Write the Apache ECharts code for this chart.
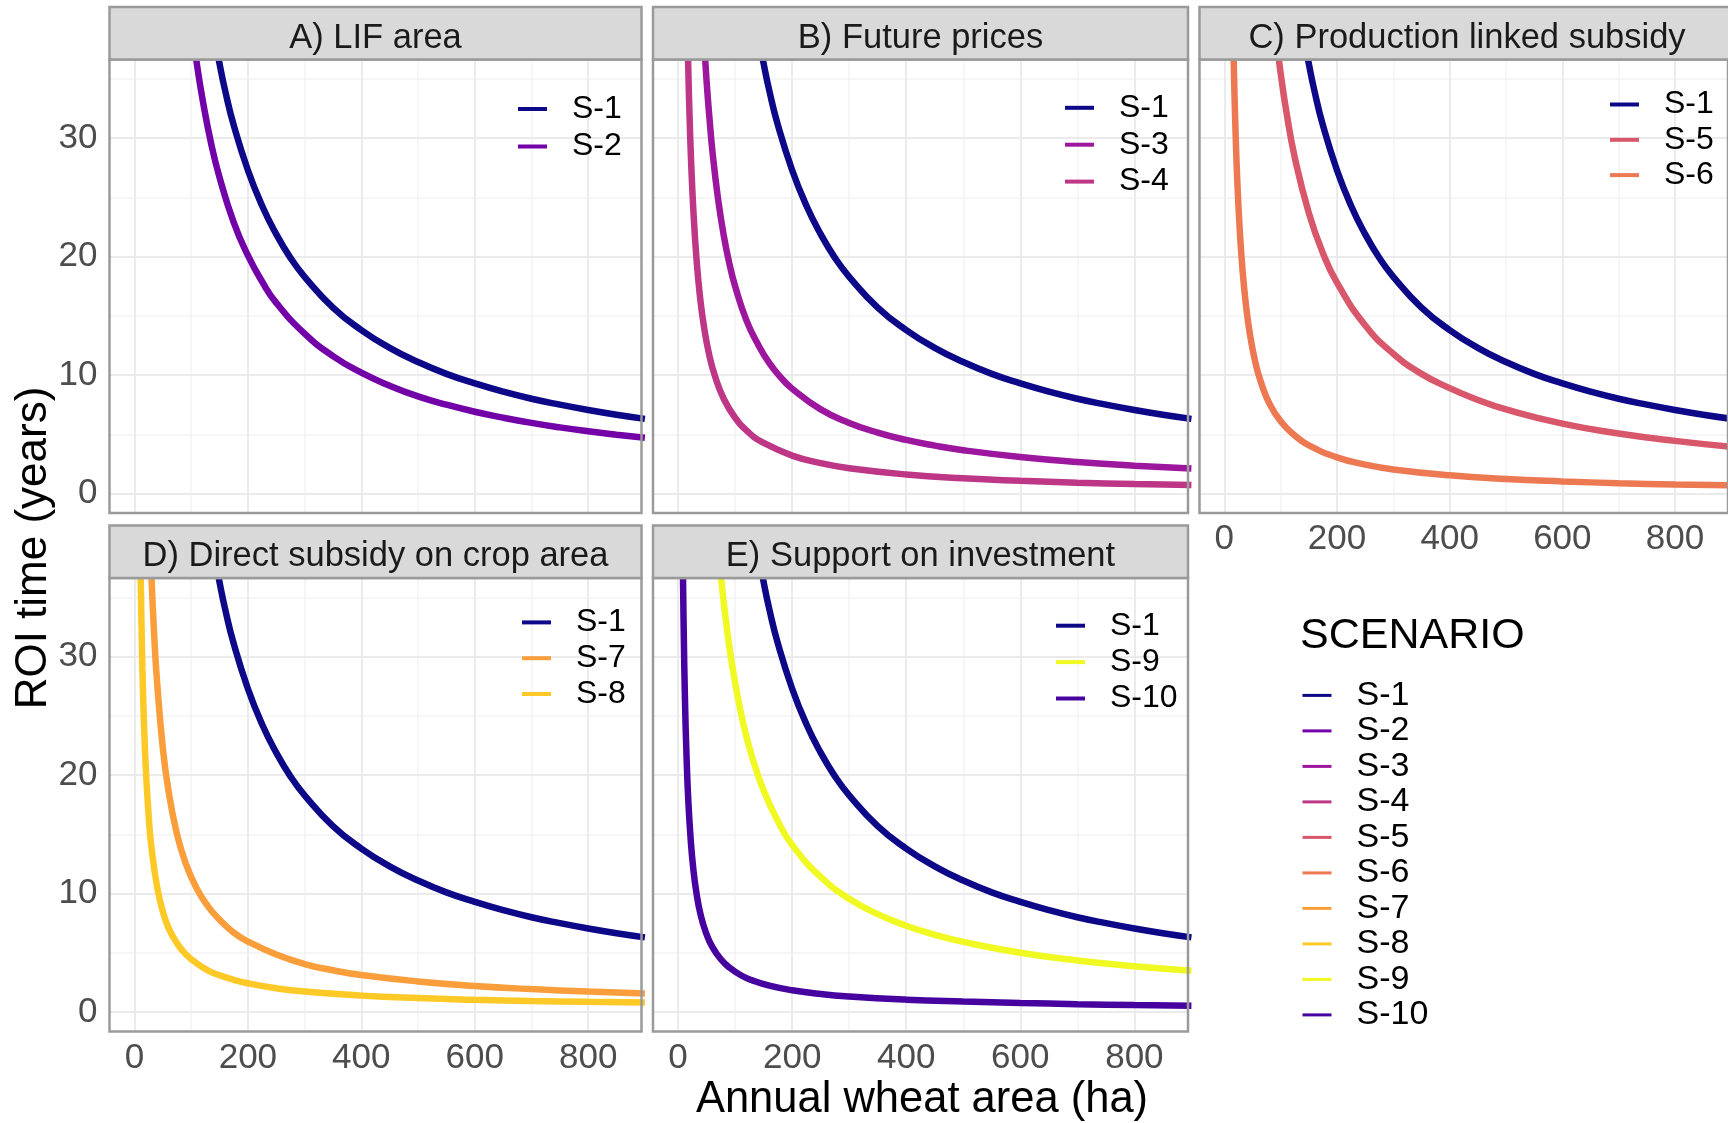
<!DOCTYPE html>
<html>
<head>
<meta charset="utf-8">
<title>ROI time by annual wheat area</title>
<script src="https://cdn.jsdelivr.net/npm/echarts@6/dist/echarts.min.js"></script>
<style>
  html, body { margin: 0; padding: 0; background: #ffffff; }
  #chart { width: 1728px; height: 1123px; }
</style>
</head>
<body>
<div id="chart"></div>
<script>
// ROI time (years) against annual wheat area (ha), one [area, years] pair per point.
const S_1  = [[140,38.9],[150,36.3],[160,34.0],[175,31.1],[200,27.3],[225,24.3],[250,21.9],[275,19.9],[300,18.3],[350,15.7],[400,13.8],[450,12.3],[500,11.1],[550,10.1],[600,9.3],[650,8.6],[700,8.0],[750,7.5],[800,7.05],[850,6.65],[900,6.3]];
const S_2  = [[100,39.9],[110,36.3],[120,33.3],[135,29.6],[150,26.7],[175,22.9],[200,20.1],[225,17.9],[250,16.1],[300,13.5],[350,11.6],[400,10.2],[450,9.1],[500,8.2],[550,7.5],[600,6.9],[650,6.4],[700,5.96],[750,5.58],[800,5.25],[850,4.96],[900,4.7]];
const S_3  = [[42,41.4],[45,38.7],[50,34.8],[55,31.7],[60,29.0],[70,24.9],[80,21.8],[90,19.4],[100,17.5],[120,14.6],[140,12.6],[160,11.0],[180,9.8],[200,8.85],[250,7.1],[300,5.96],[350,5.14],[400,4.52],[450,4.04],[500,3.65],[600,3.08],[700,2.66],[800,2.35],[900,2.1]];
const S_4  = [[15,42.7],[16,40.0],[18,35.6],[20,32.0],[23,27.8],[27,23.7],[32,20.0],[38,16.8],[45,14.2],[55,11.6],[65,9.85],[80,8.0],[100,6.4],[125,5.1],[150,4.27],[200,3.2],[250,2.56],[300,2.13],[400,1.6],[500,1.28],[600,1.07],[700,0.91],[800,0.8],[900,0.71]];
const S_5  = [[90,39.4],[95,37.4],[100,35.5],[110,32.3],[125,28.4],[150,23.7],[175,20.3],[200,17.8],[250,14.2],[300,11.8],[350,10.1],[400,8.9],[450,7.9],[500,7.1],[600,5.9],[700,5.07],[800,4.44],[900,3.94]];
const S_6  = [[14,43.6],[15,40.7],[17,35.9],[20,30.5],[23,26.5],[27,22.6],[32,19.1],[38,16.1],[45,13.6],[55,11.1],[65,9.4],[80,7.6],[100,6.1],[125,4.9],[150,4.07],[200,3.05],[250,2.44],[300,2.03],[400,1.53],[500,1.22],[600,1.02],[700,0.87],[800,0.76],[900,0.68]];
const S_7  = [[27,40.9],[30,36.8],[35,31.6],[40,27.8],[50,22.3],[60,18.7],[75,15.0],[90,12.6],[110,10.4],[130,8.9],[150,7.8],[175,6.7],[200,5.95],[250,4.85],[300,4.05],[350,3.52],[400,3.12],[500,2.58],[600,2.2],[700,1.93],[800,1.72],[900,1.56]];
const S_8  = [[10,40.6],[11,36.9],[12,33.9],[14,29.1],[17,24.1],[20,20.6],[25,16.6],[30,13.9],[40,10.55],[50,8.5],[60,7.1],[75,5.8],[90,4.9],[110,4.1],[130,3.5],[150,3.1],[175,2.72],[200,2.42],[250,2.0],[300,1.72],[400,1.38],[500,1.17],[600,1.03],[700,0.93],[800,0.86],[900,0.8]];
const S_9  = [[70,39.5],[75,36.9],[80,34.6],[90,30.8],[100,27.8],[115,24.2],[130,21.5],[150,18.7],[175,16.1],[200,14.1],[250,11.4],[300,9.56],[350,8.26],[400,7.28],[450,6.52],[500,5.92],[600,5.0],[700,4.35],[800,3.87],[900,3.49]];
const S_10 = [[7,45.0],[8,39.6],[9,35.2],[10,31.8],[12,26.5],[15,21.3],[18,17.75],[22,14.6],[26,12.4],[32,10.1],[40,8.1],[50,6.55],[60,5.5],[75,4.45],[90,3.75],[110,3.1],[130,2.67],[160,2.22],[200,1.83],[250,1.51],[300,1.3],[400,1.04],[500,0.88],[600,0.76],[700,0.66],[800,0.58],[900,0.52]];

const scenarioNames  = ['S-1','S-2','S-3','S-4','S-5','S-6','S-7','S-8','S-9','S-10'];
const panelTitles    = ['A) LIF area', 'B) Future prices', 'C) Production linked subsidy',
                        'D) Direct subsidy on crop area', 'E) Support on investment'];
const panelScenarios = [['S-1','S-2'], ['S-1','S-3','S-4'], ['S-1','S-5','S-6'],
                        ['S-1','S-7','S-8'], ['S-1','S-9','S-10']];
const xTicks      = [0, 200, 400, 600, 800];
const yTicks      = [0, 10, 20, 30];
const xMinorLines = [100, 300, 500, 700];
const yMinorLines = [5, 15, 25, 35];

const scenarioData = {
  'S-1': S_1, 'S-2': S_2, 'S-3': S_3, 'S-4': S_4, 'S-5': S_5,
  'S-6': S_6, 'S-7': S_7, 'S-8': S_8, 'S-9': S_9, 'S-10': S_10
};

// plasma palette, levels in alphabetical order of the scenario codes
const scenarioColors = {
  'S-1': '#0D0887', 'S-10': '#47039F', 'S-2': '#7301A8', 'S-3': '#9C179E', 'S-4': '#BD3786',
  'S-5': '#D8576B', 'S-6': '#ED7953', 'S-7': '#FA9E3B', 'S-8': '#FDC926', 'S-9': '#F0F921'
};

// facet layout (pixels)
const FONT = '"Liberation Sans", Arial, Helvetica, sans-serif';
const PLOT_H = 453.5;
const STRIP_H = 52.5;
const X_RANGE = [-44, 894];
const Y_RANGE = [-1.65, 36.65];
const panelBoxes = [
  { left: 109.5,  top: 59.5, width: 532, xLab: false, yLab: true,  leg: { left: 518,  top: 93,    gap: 5.5 } },
  { left: 653,    top: 59.5, width: 535, xLab: false, yLab: false, leg: { left: 1065, top: 91.8,  gap: 4.9 } },
  { left: 1199.5, top: 59.5, width: 535, xLab: true,  yLab: false, leg: { left: 1610, top: 88.5,  gap: 3.3 } },
  { left: 109.5,  top: 578,  width: 532, xLab: true,  yLab: true,  leg: { left: 522,  top: 606.4, gap: 3.8 } },
  { left: 653,    top: 578,  width: 535, xLab: true,  yLab: false, leg: { left: 1056, top: 609.7, gap: 4.4 } }
];

const BORDER = '#9a9a9a';
const MAJOR = { color: '#ebebeb', width: 2, type: 'solid' };
const MINOR = { color: '#f3f3f3', width: 1.5, type: 'solid' };

function gridLineMarks() {
  const d = [];
  xMinorLines.forEach(v => d.push({ xAxis: v, lineStyle: MINOR }));
  yMinorLines.forEach(v => d.push({ yAxis: v, lineStyle: MINOR }));
  xTicks.forEach(v => d.push({ xAxis: v, lineStyle: MAJOR }));
  yTicks.forEach(v => d.push({ yAxis: v, lineStyle: MAJOR }));
  return d;
}

const grids = [], xAxes = [], yAxes = [], series = [], legends = [], graphics = [];

panelBoxes.forEach((p, i) => {
  grids.push({
    left: p.left, top: p.top, width: p.width, height: PLOT_H,
    show: true, backgroundColor: 'transparent', borderColor: BORDER, borderWidth: 2.5, z: 3
  });
  xAxes.push({
    gridIndex: i, type: 'value', min: X_RANGE[0], max: X_RANGE[1],
    splitLine: { show: false }, axisLine: { show: false },
    axisTick: { show: p.xLab, customValues: xTicks, length: 7, lineStyle: { color: '#555555', width: 2 } },
    axisLabel: { show: p.xLab, customValues: xTicks, margin: 9, fontSize: 35, color: '#4d4d4d', fontFamily: FONT }
  });
  yAxes.push({
    gridIndex: i, type: 'value', min: Y_RANGE[0], max: Y_RANGE[1],
    splitLine: { show: false }, axisLine: { show: false },
    axisTick: { show: p.yLab, customValues: yTicks, length: 7, lineStyle: { color: '#555555', width: 2 } },
    axisLabel: { show: p.yLab, customValues: yTicks, margin: 12, fontSize: 35, color: '#4d4d4d', fontFamily: FONT }
  });

  panelScenarios[i].forEach((name, k) => {
    const s = {
      type: 'line', name: name, xAxisIndex: i, yAxisIndex: i,
      data: scenarioData[name],
      showSymbol: false, symbol: 'none', smooth: 0.5, clip: true,
      lineStyle: { width: 6.5, color: scenarioColors[name] },
      itemStyle: { color: scenarioColors[name] },
      emphasis: { disabled: true }, silent: true, z: 2
    };
    if (k === 0) {
      s.markLine = {
        silent: true, symbol: ['none', 'none'], z: 1, animation: false,
        label: { show: false }, emphasis: { disabled: true },
        data: gridLineMarks()
      };
    }
    series.push(s);
  });

  legends.push({
    data: panelScenarios[i], orient: 'vertical', left: p.leg.left, top: p.leg.top,
    padding: 0, itemGap: p.leg.gap, itemWidth: 29, itemHeight: 4, icon: 'rect', selectedMode: false,
    formatter: '{s|{name}}',
    textStyle: { rich: { s: { fontSize: 32, fontFamily: FONT, color: '#000000', padding: [0, 0, 0, 20] } } }
  });

  // facet strip
  const stripTop = p.top - STRIP_H;
  graphics.push({
    type: 'rect', silent: true, z: 10,
    shape: { x: p.left, y: stripTop, width: p.width, height: STRIP_H },
    style: { fill: '#d9d9d9', stroke: BORDER, lineWidth: 2.5 }
  });
  graphics.push({
    type: 'text', silent: true, z: 11,
    style: {
      text: panelTitles[i], x: p.left + p.width / 2, y: stripTop + STRIP_H / 2 + 5,
      align: 'center', verticalAlign: 'middle', textAlign: 'center', textVerticalAlign: 'middle',
      font: '34.5px ' + FONT, fill: '#1a1a1a'
    }
  });
});

// shared scenario legend
legends.push({
  data: scenarioNames, orient: 'vertical', left: 1302.5, top: 678.4,
  padding: 0, itemGap: 1.5, itemWidth: 29, itemHeight: 3, icon: 'rect', selectedMode: false,
  formatter: '{s|{name}}',
  textStyle: { rich: { s: { fontSize: 34, fontFamily: FONT, color: '#000000', padding: [0, 0, 0, 20] } } }
});

graphics.push({
  type: 'text', silent: true,
  style: { text: 'SCENARIO', x: 1300, y: 636, align: 'left', verticalAlign: 'middle',
           textAlign: 'left', textVerticalAlign: 'middle', font: '43px ' + FONT, fill: '#000000' }
});
graphics.push({
  type: 'text', silent: true, x: 34, y: 548, rotation: Math.PI / 2,
  style: { text: 'ROI time (years)', x: 0, y: 0, align: 'center', verticalAlign: 'middle',
           textAlign: 'center', textVerticalAlign: 'middle', font: '44px ' + FONT, fill: '#000000' }
});
graphics.push({
  type: 'text', silent: true,
  style: { text: 'Annual wheat area (ha)', x: 922, y: 1100, align: 'center', verticalAlign: 'middle',
           textAlign: 'center', textVerticalAlign: 'middle', font: '43.5px ' + FONT, fill: '#000000' }
});

const chart = echarts.init(document.getElementById('chart'), null, { renderer: 'canvas' });
chart.setOption({
  animation: false,
  backgroundColor: '#ffffff',
  textStyle: { fontFamily: FONT },
  grid: grids,
  xAxis: xAxes,
  yAxis: yAxes,
  legend: legends,
  series: series,
  graphic: { elements: graphics }
});
</script>
</body>
</html>
